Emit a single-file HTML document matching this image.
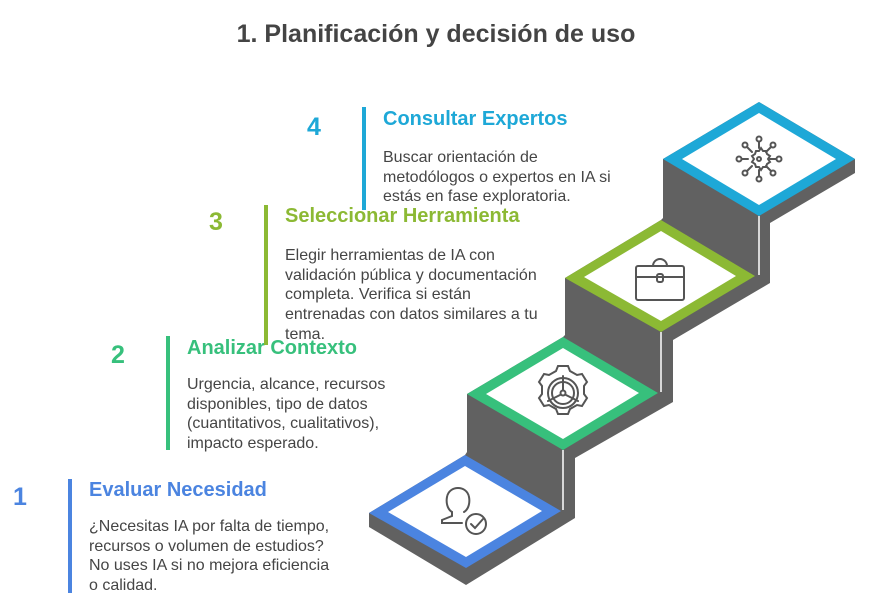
<!DOCTYPE html>
<html><head><meta charset="utf-8"><style>
body{margin:0;width:872px;height:606px;background:#fff;position:relative;overflow:hidden;font-family:"Liberation Sans",sans-serif;color:#454545}
.a{position:absolute;white-space:nowrap}
.t{font-size:20px;font-weight:bold;line-height:24px}
.b{font-size:16px;line-height:19.7px}
.n{font-size:25px;font-weight:bold;line-height:30px}
.bar{position:absolute;width:4px}
</style></head><body>
<div class="a" style="left:0;width:872px;text-align:center;top:20px;font-size:25px;font-weight:bold;color:#444">1. Planificación y decisión de uso</div>

<svg class="a" style="left:0;top:0" width="872" height="606">
<polygon fill="#616161" points="759,102 855,159 855,173 770,223 770,283 673,340 673,402 575,458 575,518 466,585 369,527 369,513 465,455 467,452 467,394 563,337 565,335 565,278 661,220 663,218 663,159"/>
<g stroke="#fff" stroke-width="1.5" fill="none">
<line x1="563" y1="450" x2="563" y2="510"/><line x1="661" y1="332" x2="661" y2="392"/><line x1="759" y1="216" x2="759" y2="275"/>
</g>
<polygon fill="#4b84e0" points="369,513 465,455 561,511 466,568"/>
<polygon fill="#fff" points="388,512 465,466 542,511 466,557"/>
<polygon fill="#37c07c" points="467,394 563,337 658,393 563,450"/>
<polygon fill="#fff" points="486,394 563,348 639,393 563,439"/>
<polygon fill="#8cb934" points="565,278 661,220 755,276 661,332"/>
<polygon fill="#fff" points="584,277 661,231 736,276 661,321"/>
<polygon fill="#1ea8d7" points="663,159 759,102 855,159 759,216"/>
<polygon fill="#fff" points="682,159 759,113 836,159 759,205"/>
<g stroke="#555" stroke-width="2" fill="none" stroke-linecap="round">
<path d="M452,512 c-5,-3 -6,-10 -5,-15 c1,-6 6,-9 11,-9 c5,0 10,3 11,9 c1,5 0,12 -5,15"/>
<path d="M452,512 l0,4 l-10,4 l0,3 l20,0"/>
<circle cx="476" cy="524" r="10"/><path d="M471,524 l4,4 l8,-9"/>
<circle cx="563" cy="393" r="15"/><circle cx="563" cy="393" r="11"/>
<circle cx="563" cy="393" r="2.5"/>
<path d="M563,390 v-14 M560,395 l-12,6 M566,395 l12,6"/>
<path d="M556,371 l2,-5 h10 l2,5 l7,4 l5,-1 l5,8 l-3,4 v8 l3,4 l-5,8 l-5,-1 l-7,4 l-2,5 h-10 l-2,-5 l-7,-4 l-5,1 l-5,-8 l3,-4 v-8 l-3,-4 l5,-8 l5,1 z"/>
<rect x="636" y="266" width="48" height="34" rx="2"/><path d="M636,277 h48"/>
<path d="M653,266 a7,7 0 0 1 14,0"/><rect x="657" y="274" width="6" height="8" rx="2"/>
<path d="M759,151 l2,-3 2,3 3,0 1,3 3,2 -2,3 2,3 -3,2 -1,3 -3,0 -2,3 -2,-3 -3,0 -1,-3 -3,-2 2,-3 -2,-3 3,-2 1,-3z"/>
<circle cx="759" cy="159" r="2"/>
<path d="M759,148 v-6 M759,170 v6 M748,159 h-6 M770,159 h6 M752,152 l-5,-5 M766,152 l5,-5 M752,166 l-5,5 M766,166 l5,5"/>
<circle cx="759" cy="139" r="2.5"/><circle cx="759" cy="179" r="2.5"/><circle cx="739" cy="159" r="2.5"/><circle cx="779" cy="159" r="2.5"/>
<circle cx="745" cy="145" r="2.5"/><circle cx="773" cy="145" r="2.5"/><circle cx="745" cy="173" r="2.5"/><circle cx="773" cy="173" r="2.5"/>
</g>
</svg>

<div class="a n" style="left:307px;top:112px;color:#1ea8d7">4</div>
<div class="a t" style="left:383px;top:107px;color:#1ea8d7">Consultar Expertos</div>
<div class="a b" style="left:383px;top:148px">Buscar orientación de<br>metodólogos o expertos en IA si<br>estás en fase exploratoria.</div>
<div class="a n" style="left:209px;top:207px;color:#8cb934">3</div>
<div class="a t" style="left:285px;top:204px;color:#8cb934">Seleccionar Herramienta</div>
<div class="a b" style="left:285px;top:246px">Elegir herramientas de IA con<br>validación pública y documentación<br>completa. Verifica si están<br>entrenadas con datos similares a tu<br>tema.</div>
<div class="a n" style="left:111px;top:340px;color:#37c07c">2</div>
<div class="a t" style="left:187px;top:336px;color:#37c07c">Analizar Contexto</div>
<div class="a b" style="left:187px;top:375px">Urgencia, alcance, recursos<br>disponibles, tipo de datos<br>(cuantitativos, cualitativos),<br>impacto esperado.</div>
<div class="a n" style="left:13px;top:482px;color:#4b84e0">1</div>
<div class="a t" style="left:89px;top:478px;color:#4b84e0">Evaluar Necesidad</div>
<div class="a b" style="left:89px;top:517px">¿Necesitas IA por falta de tiempo,<br>recursos o volumen de estudios?<br>No uses IA si no mejora eficiencia<br>o calidad.</div>

<div class="bar" style="left:362px;top:107px;height:103px;background:#1ea8d7"></div>
<div class="bar" style="left:264px;top:205px;height:140px;background:#8cb934"></div>
<div class="bar" style="left:166px;top:336px;height:114px;background:#37c07c"></div>
<div class="bar" style="left:68px;top:479px;height:114px;background:#4b84e0"></div>
</body></html>
